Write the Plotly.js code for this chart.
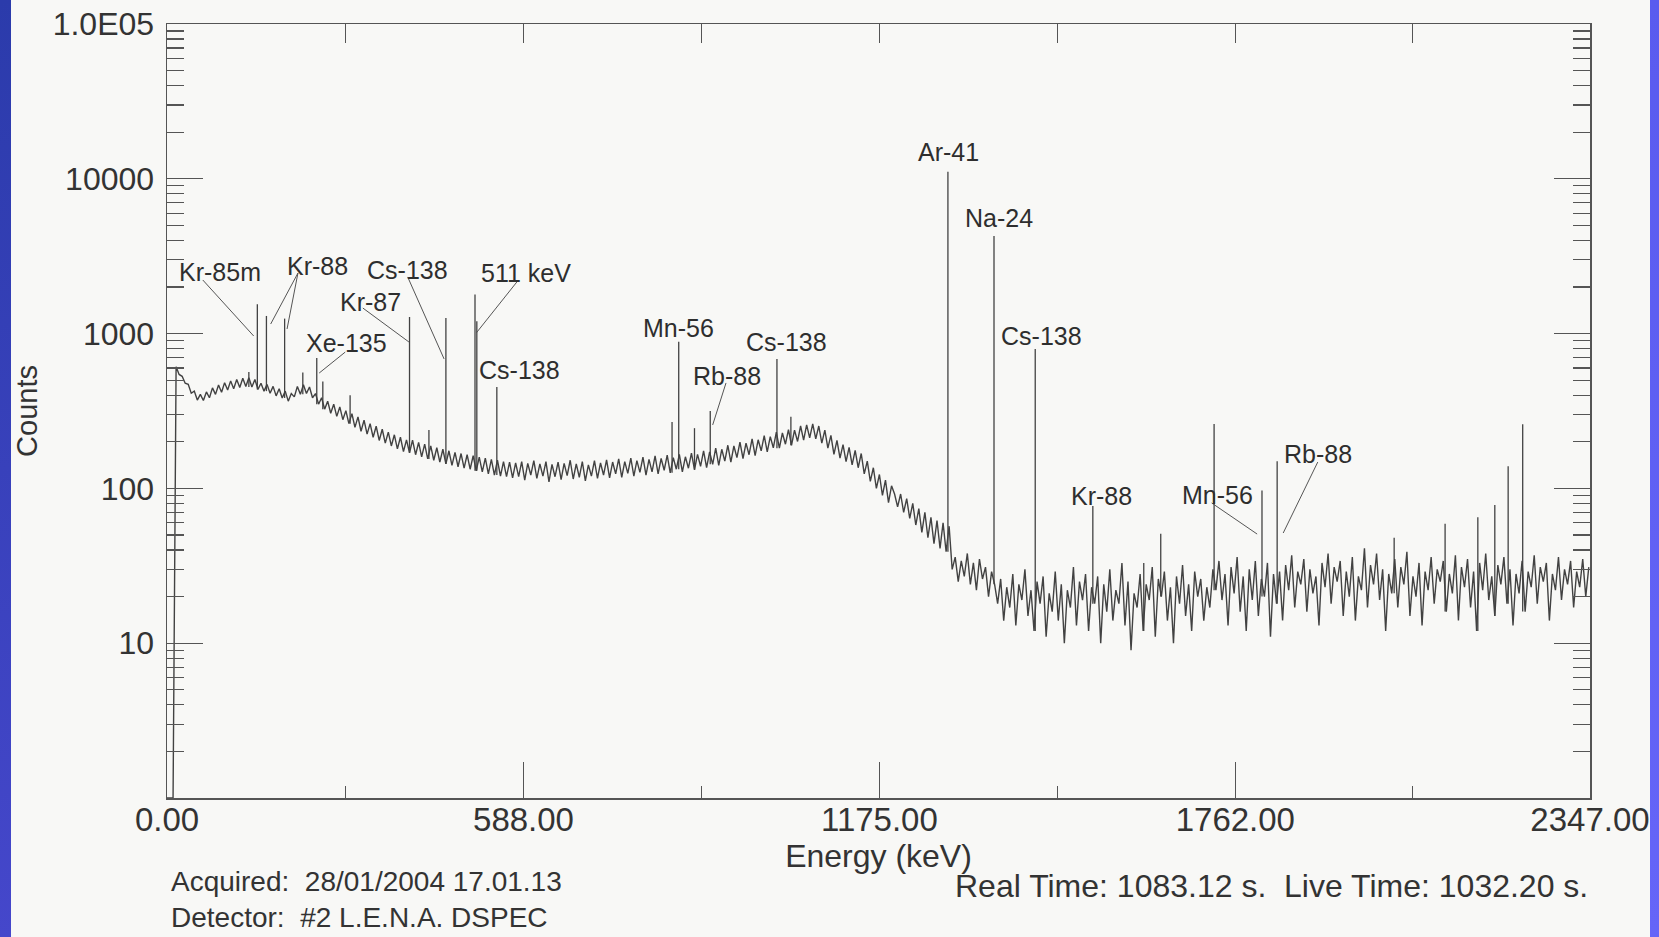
<!DOCTYPE html>
<html><head><meta charset="utf-8">
<script src="https://cdn.plot.ly/plotly-3.0.1.min.js"></script>
<style>
html,body{margin:0;padding:0;width:1659px;height:937px;overflow:hidden;background:#f8f8f6;}
#edgeL{position:absolute;left:0;top:0;width:11px;height:937px;background:linear-gradient(#2b3bab,#4547cb);}
#edgeR{position:absolute;left:1650px;top:0;width:9px;height:937px;background:linear-gradient(#595bef,#6565f8);}
#chart{position:absolute;left:11px;top:0;width:1639px;height:937px;}
</style></head>
<body><div id="edgeL"></div><div id="chart"></div><div id="edgeR"></div>
<script>
// ---- data ----
const keVPerChannel = 5;
const counts = [
1,1,1,610,545,530,478,470,412,425,372,405,370,420,385,446,405,465,418,482,
432,495,440,505,448,515,455,518,452,505,436,478,425,470,412,456,396,440,384,425,
366,410,390,455,405,468,410,452,385,410,350,385,325,366,306,350,292,336,278,318,
262,304,248,290,234,276,224,262,214,252,204,241,196,231,188,222,180,214,173,206,
170,205,165,198,160,193,155,188,152,183,148,179,144,175,141,171,138,168,135,165,
133,163,130,159,128,157,124,154,122,152,120,149,119,148,117,146,119,149,113,145,
122,151,116,144,120,149,110,143,119,148,114,145,121,152,115,144,118,149,112,142,
120,151,116,146,122,153,117,148,124,155,118,149,125,157,120,151,127,159,122,154,
128,162,124,156,131,164,126,158,133,166,128,160,135,169,132,166,139,175,136,172,
143,182,141,179,150,190,148,188,158,199,156,196,165,209,163,206,175,219,172,216,
183,231,182,228,193,240,190,238,201,253,205,257,212,261,209,253,196,238,182,220,
166,204,157,192,149,184,142,176,136,168,124,150,111,136,100,123,90,113,81,104,
92,76,92,70,86,64,80,58,74,52,70,48,65,44,62,41,60,39,57,30,
36,25,34,27,38,24,33,22,35,26,31,20,29,24,18,26,14,23,17,28,
13,24,19,30,15,22,12,25,18,27,11,21,16,29,14,24,10,22,17,31,
13,25,19,28,12,23,18,27,10,24,16,30,14,22,18,33,13,25,9,21,
17,28,12,24,19,31,11,26,20,29,14,23,10,27,18,32,15,24,12,29,
20,26,14,23,17,30,22,34,19,28,13,31,21,36,16,27,12,30,19,34,
15,26,20,33,11,28,18,29,14,32,22,37,17,29,24,35,16,30,21,27,
13,33,23,38,18,31,25,34,15,29,20,36,14,27,22,41,17,32,24,38,
19,30,12,28,21,35,17,31,24,39,15,27,20,33,13,29,22,36,18,30,
25,34,16,28,21,37,14,31,23,35,17,29,12,33,22,38,19,27,15,32,
24,36,18,30,13,28,21,34,16,29,23,37,18,31,25,33,14,28,22,36,
19,30,24,34,17,29,23,35,20,31
];
const peakEnergy = [135,149,164,194,224,247,257,302,400,432,460,508,511,544,833,844,870,896,1006,1029,1288,1364,1432,1527,1611,1639,1727,1806,1831,2024,2108,2162,2190,2212,2236];
const peakTop    = [565,1550,1300,1250,560,695,490,400,1280,238,1260,1790,1200,452,268,887,245,316,686,290,11120,4270,795,77,33,51,261,97,150,48,59,65,78,139,260];

const xTickVals = [0, 588, 1175, 1762, 2347];
const xTickText = ['0.00','588.00','1175.00','1762.00','2347.00'];
const yTickVals = [10, 100, 1000, 10000, 100000];
const yTickText = ['10','100','1000','10000','1.0E05'];

const labelText   = ['Kr-85m','Kr-88','Kr-87','Cs-138','511 keV','Xe-135','Cs-138','Mn-56','Rb-88','Cs-138','Ar-41','Na-24','Cs-138','Kr-88','Mn-56','Rb-88'];
const labelEnergy = [87,248,335,397,592,296,582,843,924,1021,1289,1372,1443,1542,1733,1898];
const labelCounts = [2500,2734,1600,2576,2462,869,582,1087,532,889,14900,5580,972,89,91,167];

// leader lines: [E0, c0, E1, c1]
const leaders = [[59,2220,143,965],[216,2462,171,1153],[216,2462,198,1071],[323,1463,399,883],
 [397,2322,457,686],[577,2154,510,1009],[294,760,251,556],[922,480,900,257],
 [1723,80.5,1798,50.7],[1898,148,1841,51.5]];

const infoLeft1 = 'Acquired:\u00a0 28/01/2004 17.01.13';
const infoLeft2 = 'Detector:\u00a0 #2 L.E.N.A. DSPEC';
const infoRight = 'Real Time: 1083.12 s.\u00a0 Live Time: 1032.20 s.';

// ---- build traces ----
const energy = counts.map((_, i) => i * keVPerChannel);
const ink = '#424242';

const px = [], py = [];
peakEnergy.forEach((e, k) => {
  const i0 = Math.floor(e / keVPerChannel), i1 = Math.min(counts.length - 1, i0 + 1);
  const base = Math.min(counts[i0], counts[i1]);
  px.push(e, e, null); py.push(base, peakTop[k], null);
});
const lx = [], ly = [];
leaders.forEach(l => { lx.push(l[0], l[2], null); ly.push(l[1], l[3], null); });

const traces = [
  {x: energy, y: counts, type: 'scatter', mode: 'lines', line: {color: ink, width: 1.4}, hoverinfo: 'skip', showlegend: false},
  {x: px, y: py, type: 'scatter', mode: 'lines', line: {color: ink, width: 1.3}, hoverinfo: 'skip', showlegend: false},
  {x: lx, y: ly, xaxis: 'x2', type: 'scatter', mode: 'lines', line: {color: '#555', width: 1}, hoverinfo: 'skip', showlegend: false}
];

const minorY = [];
[1, 10, 100, 1000, 10000].forEach(d => { for (let m = 2; m <= 9; m++) minorY.push(m * d); });

const annotations = labelText.map((t, k) => ({
  x: labelEnergy[k], y: Math.log10(labelCounts[k]), xref: 'x', yref: 'y',
  text: t, showarrow: false, xanchor: 'center', yanchor: 'middle',
  font: {size: 25, color: '#2e2e2e'}
}));
const plotL = 167 - 11, plotW = 1423, plotT = 24, plotH = 774;
function paperX(p) { return (p - 11 - plotL) / plotW; }
function paperY(p) { return (plotT + plotH - p) / plotH; }
annotations.push(
  {xref: 'paper', yref: 'paper', x: paperX(169), y: paperY(935), xanchor: 'left', yanchor: 'bottom', align: 'left',
   text: infoLeft1 + '<br>' + infoLeft2, showarrow: false, font: {size: 28, color: '#333'}},
  {xref: 'paper', yref: 'paper', x: paperX(1590), y: paperY(886), xanchor: 'right', yanchor: 'middle', text: infoRight, showarrow: false, font: {size: 32, color: '#333'}}
);

const layout = {
  width: 1639, height: 937,
  margin: {l: plotL, r: 1639 - plotL - plotW, t: plotT, b: 937 - plotT - plotH},
  paper_bgcolor: '#f8f8f6', plot_bgcolor: '#f8f8f6',
  font: {family: 'Liberation Sans, Arial, sans-serif', color: '#333'},
  showlegend: false,
  xaxis: {
    range: [0, 2347], tickmode: 'array', tickvals: xTickVals, ticktext: xTickText,
    ticks: 'inside', ticklen: 36, tickwidth: 1.3, tickcolor: '#555',
    showline: true, linecolor: '#555', linewidth: 1.5, mirror: false,
    showgrid: false, zeroline: false, tickfont: {size: 33, color: '#333'}, ticklabelstandoff: -8,
    minor: {tickmode: 'array', tickvals: [294, 881.5, 1468.5, 2054.5], ticks: 'inside', ticklen: 12, tickwidth: 1.3, tickcolor: '#555', showgrid: false},
    title: {text: 'Energy (keV)', font: {size: 32, color: '#333'}, standoff: 2}
  },
  xaxis2: {
    overlaying: 'x', side: 'top', anchor: 'y', range: [0, 2347],
    tickmode: 'array', tickvals: [294, 588, 881.5, 1175, 1468.5, 1762, 2054.5],
    ticks: 'inside', ticklen: 19, tickwidth: 1.3, tickcolor: '#555', showticklabels: false,
    showline: true, linecolor: '#555', linewidth: 1.5, showgrid: false, zeroline: false
  },
  yaxis: {
    type: 'log', range: [0, 5], tickmode: 'array', tickvals: yTickVals, ticktext: yTickText,
    ticks: 'inside', ticklen: 36, tickwidth: 1.3, tickcolor: '#555',
    showline: true, linecolor: '#555', linewidth: 1.5, mirror: 'ticks',
    showgrid: false, zeroline: false, tickfont: {size: 32, color: '#333'}, ticklabelstandoff: 5,
    minor: {tickmode: 'array', tickvals: minorY, ticks: 'inside', ticklen: 17, tickwidth: 1.2, tickcolor: '#555', showgrid: false},
    title: {text: 'Counts', font: {size: 29, color: '#333'}, standoff: 8}
  },
  annotations: annotations
};

Plotly.newPlot('chart', traces, layout, {displayModeBar: false, staticPlot: true});
</script></body></html>
